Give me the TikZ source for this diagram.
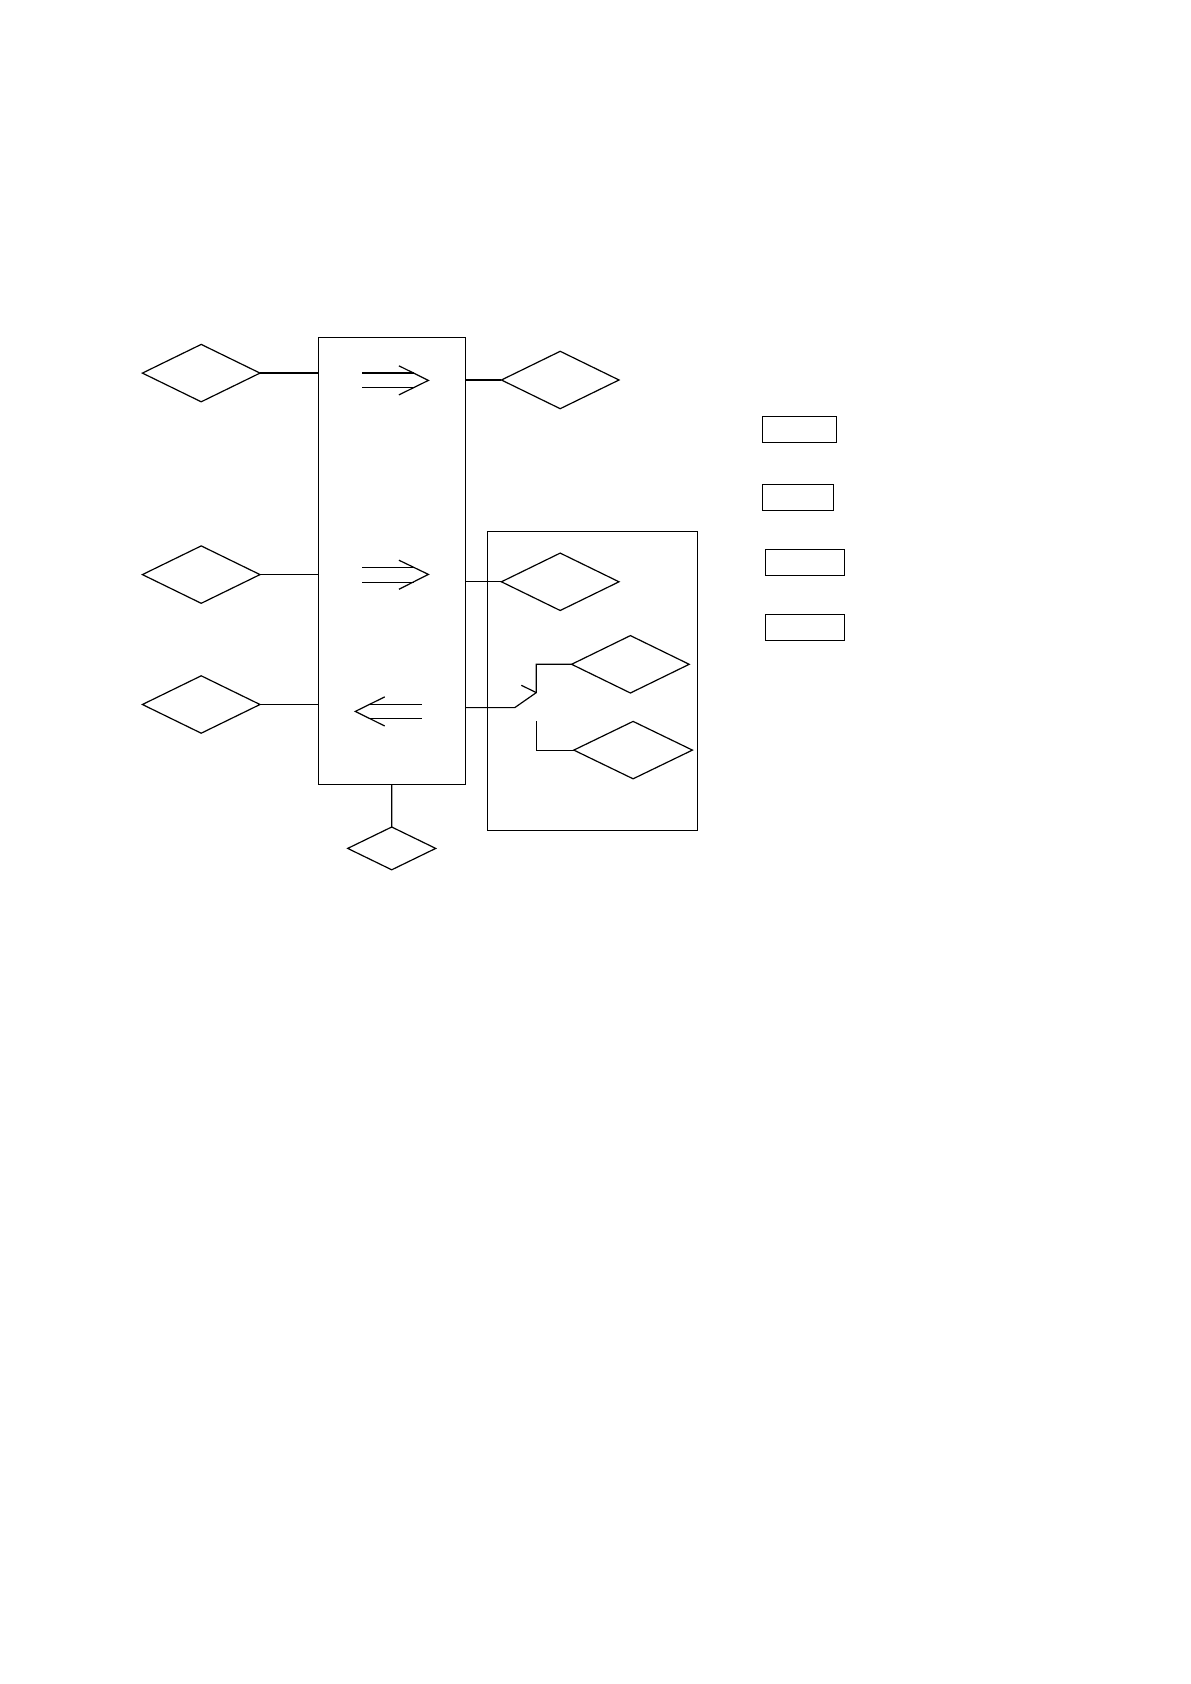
\documentclass[tikz,border=0pt]{standalone}
\usetikzlibrary{shapes.geometric}
\begin{document}
\begin{tikzpicture}[x=0.5pt,y=-0.5pt,line width=0.6pt,
  dia/.style={draw,shape=diamond,inner sep=0pt,outer sep=0pt,minimum width=58.8pt,minimum height=28.7pt},
  smalldia/.style={draw,shape=diamond,inner sep=0pt,outer sep=0pt,minimum width=44pt,minimum height=21.4pt},
  box/.style={draw,rectangle,inner sep=0pt,outer sep=0pt},
  conn/.style={draw}]
\useasboundingbox (0,0) rectangle (1190,1684);
% main block
\node[box,minimum width=73.7pt,minimum height=223.3pt] (main) at (391.8,560.8) {};
% inner group box
\node[box,minimum width=105.05pt,minimum height=149.6pt] (grp) at (592.35,680.8) {};
% left diamonds
\node[dia] (l1) at (201.2,373.1) {};
\node[dia] (l2) at (201.2,574.6) {};
\node[dia] (l3) at (201.2,704.5) {};
% right diamonds
\node[dia] (r1) at (560.2,380) {};
\node[dia] (r2) at (560.2,581.8) {};
\node[dia] (r3) at (630.4,664.3) {};
\node[dia,minimum width=59.3pt] (r4) at (633.1,750.1) {};
% bottom diamond
\node[smalldia] (b1) at (391.7,848.4) {};
% legend boxes
\node[box,minimum width=37.2pt,minimum height=13pt] (k1) at (799.5,429.3) {};
\node[box,minimum width=35.7pt,minimum height=13pt] (k2) at (798,497.3) {};
\node[box,minimum width=39.5pt,minimum height=13pt] (k3) at (804.8,562.3) {};
\node[box,minimum width=39.5pt,minimum height=13pt] (k4) at (804.8,627.3) {};
% connectors left
\draw[conn] (l1.east) -- (main.west |- l1.east);
\draw[conn] (l2.east) -- (main.west |- l2.east);
\draw[conn] (l3.east) -- (main.west |- l3.east);
% connectors right
\draw[conn] (main.east |- r1.west) -- (r1.west);
\draw[conn] (main.east |- r2.west) -- (r2.west);
% bottom
\draw[conn] (main.south) -- (b1.north);
% switch
\coordinate (s1) at (514.8,707.6);
\coordinate (s2) at (536.3,692.6);
\coordinate (s0) at (521.3,685.3);
\coordinate (s3) at (536.3,721);
\draw[conn] (main.east |- s1) -- (s1) -- (s2) -- (s2 |- r3.west) -- (r3.west);
\draw[conn] (s0) -- (s2);
\draw[conn] (s3) -- (s3 |- r4.west) -- (r4.west);
% direction arrows inside main block
\draw (362.2,373.1) -- (413.6,373.1) (362.2,387.6) -- (413.6,387.6);
\draw (398.9,365.8) -- (428.4,380.4) -- (398.9,394.9);
\draw (362.2,567.1) -- (413.6,567.1) (362.2,582.4) -- (413.6,582.4);
\draw (398.9,560.2) -- (428.4,574.4) -- (398.9,589.3);
\draw (370.1,704.1) -- (421.5,704.1) (370.1,718.3) -- (421.5,718.3);
\draw (384.7,696.9) -- (355.3,711.4) -- (384.7,726);
\end{tikzpicture}
\end{document}
